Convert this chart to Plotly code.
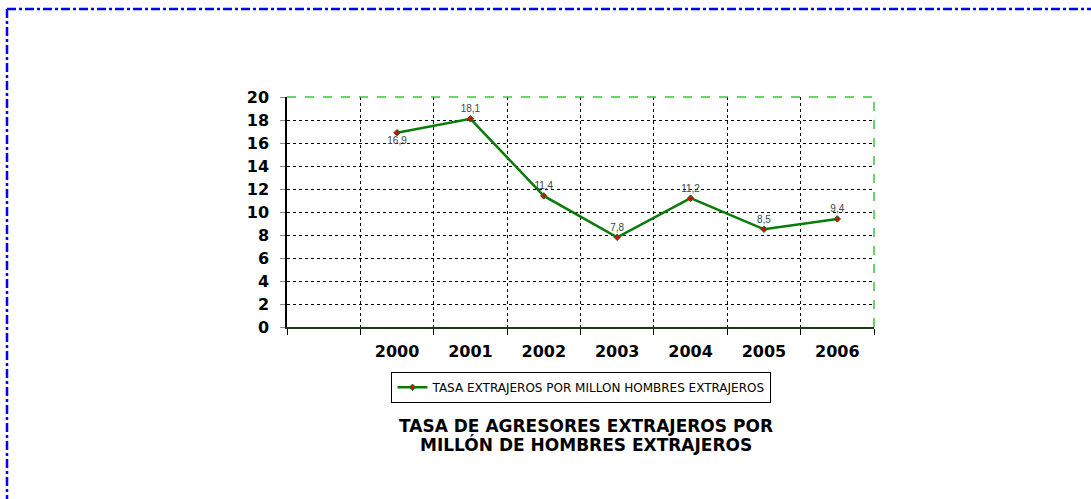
import plotly.graph_objects as go

categories = [" ", "2000", "2001", "2002", "2003", "2004", "2005", "2006"]
years = ["2000", "2001", "2002", "2003", "2004", "2005", "2006"]
values = [16.9, 18.1, 11.4, 7.8, 11.2, 8.5, 9.4]
label_pos = ["bottom center", "top center", "top center", "top center",
             "top center", "top center", "top center"]
series_name = "TASA EXTRAJEROS POR MILLON HOMBRES EXTRAJEROS"
title_line1 = "TASA DE AGRESORES EXTRAJEROS POR"
title_line2 = "MILLÓN DE HOMBRES EXTRAJEROS"
y_ticks = list(range(0, 21, 2))

fig = go.Figure()
fig.add_trace(go.Scatter(
    x=years, y=values, mode="lines+markers+text", name=series_name,
    line=dict(color="#0a7a0a", width=2.5),
    marker=dict(symbol="diamond", size=5, color="#cc1010",
                line=dict(color="#0a7a0a", width=1)),
    text=[f"{v:.1f}".replace(".", ",") for v in values],
    textposition=label_pos,
    textfont=dict(family="Liberation Sans", size=10, color="#444444"),
    cliponaxis=False,
))

title_font = dict(family="DejaVu Sans", size=17, color="black", weight="bold")

fig.update_layout(
    width=1091, height=499,
    margin=dict(l=287, r=217, t=97, b=172),
    paper_bgcolor="white", plot_bgcolor="white",
    separators=",.",
    showlegend=True,
    legend=dict(
        orientation="h", x=0.5017, y=-0.195, xanchor="center", yanchor="top",
        bordercolor="black", borderwidth=1,
        font=dict(family="DejaVu Sans", size=12, color="black"),
        itemwidth=30, tracegroupgap=0,
    ),
    xaxis=dict(
        type="category", categoryorder="array", categoryarray=categories,
        range=[-0.5, 7.5], tickson="boundaries",
        showgrid=True, gridcolor="black", griddash="dot", gridwidth=1,
        showline=True, linecolor="#1a3a1a", linewidth=2,
        ticks="outside", ticklen=6, tickcolor="black",
        ticklabelstandoff=9,
        tickfont=dict(family="DejaVu Sans", size=16, color="black", weight="bold"),
        fixedrange=True,
    ),
    yaxis=dict(
        range=[0, 20], tickvals=y_ticks,
        showgrid=True, gridcolor="black", griddash="dot", gridwidth=1,
        showline=True, linecolor="black", linewidth=1.5,
        ticks="outside", ticklen=5, tickcolor="#888888",
        ticklabelstandoff=8,
        tickfont=dict(family="DejaVu Sans", size=16, color="black", weight="bold"),
        zeroline=False,
    ),
    annotations=[
        dict(text=title_line1, xref="paper", yref="paper", x=0.5102, y=-0.43,
             xanchor="center", yanchor="middle", showarrow=False, font=title_font),
        dict(text=title_line2, xref="paper", yref="paper", x=0.5102, y=-0.513,
             xanchor="center", yanchor="middle", showarrow=False, font=title_font),
    ],
    shapes=[
        # green plot frame (top and right)
        dict(type="line", xref="paper", yref="paper", x0=0, x1=1, y0=1, y1=1,
             line=dict(color="#33cc33", width=1.5, dash="dash")),
        dict(type="line", xref="paper", yref="paper", x0=1, x1=1, y0=0, y1=1,
             line=dict(color="#33cc33", width=1.5, dash="dash")),
        # blue outer frame (top and left)
        dict(type="line", xref="paper", yref="paper", x0=-0.477, x1=1.4,
             y0=1.3826, y1=1.3826, line=dict(color="#0000ff", width=2.5, dash="dashdot")),
        dict(type="line", xref="paper", yref="paper", x0=-0.477, x1=-0.477,
             y0=1.3826, y1=-0.8, line=dict(color="#0000ff", width=2.5, dash="dashdot")),
    ],
)

fig.write_html(
    "out.html",
    config={"displayModeBar": False},
    post_script="document.body.style.margin='0';document.body.style.overflow='hidden';",
)
